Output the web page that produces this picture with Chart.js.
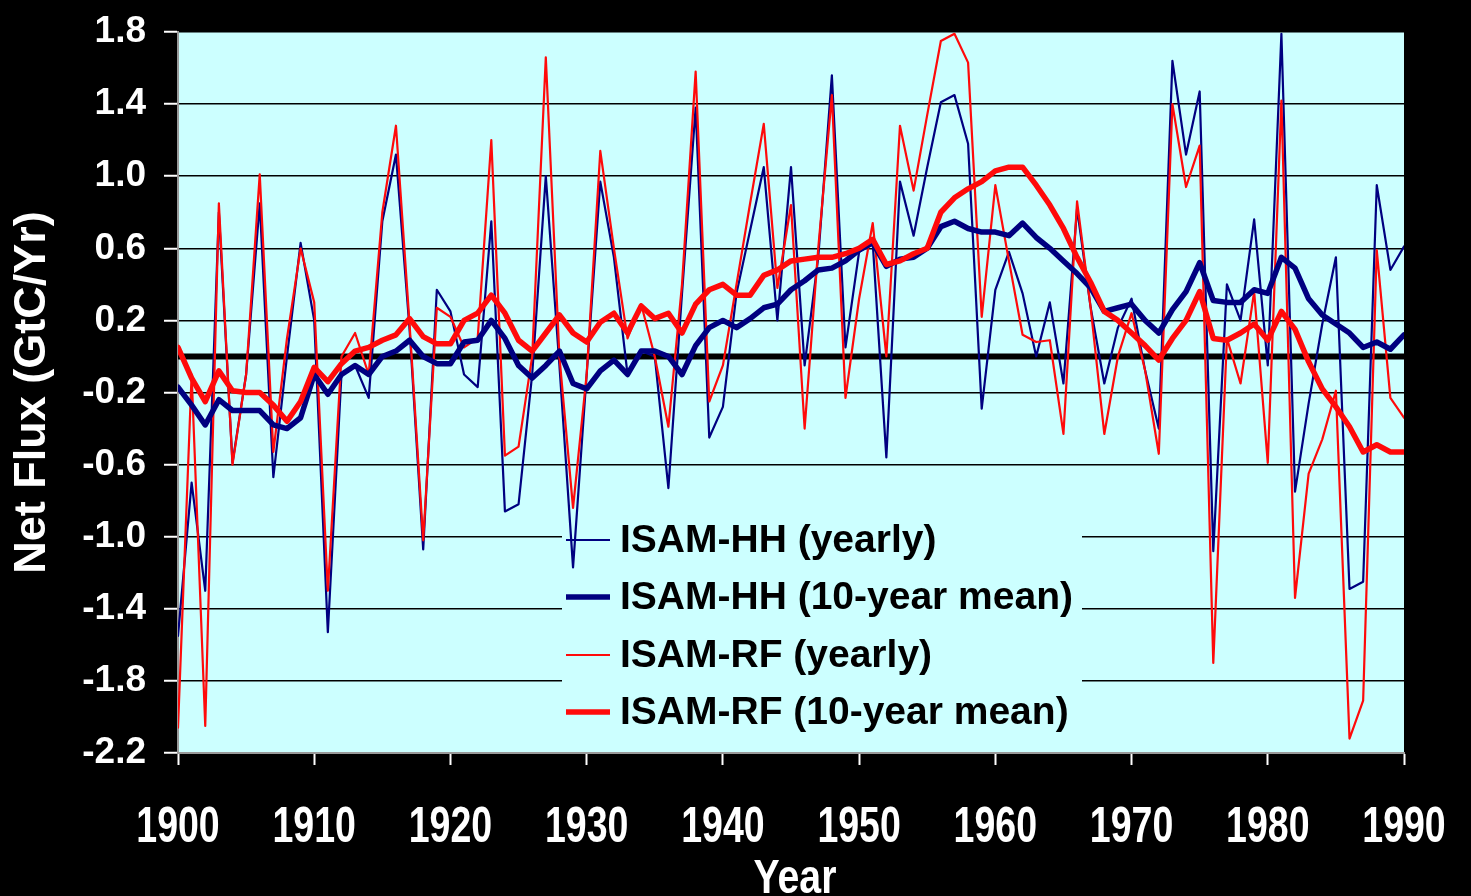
<!DOCTYPE html>
<html>
<head>
<meta charset="utf-8">
<title>Net Flux 1900-1990</title>
<script src="https://cdn.jsdelivr.net/npm/chart.js@4/dist/chart.umd.min.js"></script>
<style>
  html, body { margin: 0; padding: 0; background: #000; }
  #wrap { width: 1471px; height: 896px; }
</style>
</head>
<body>
<div id="wrap"><canvas id="c" width="1471" height="896"></canvas></div>
<script>
// Years 1900-1990
const years = [
  1900,1901,1902,1903,1904,1905,1906,1907,1908,1909,
  1910,1911,1912,1913,1914,1915,1916,1917,1918,1919,
  1920,1921,1922,1923,1924,1925,1926,1927,1928,1929,
  1930,1931,1932,1933,1934,1935,1936,1937,1938,1939,
  1940,1941,1942,1943,1944,1945,1946,1947,1948,1949,
  1950,1951,1952,1953,1954,1955,1956,1957,1958,1959,
  1960,1961,1962,1963,1964,1965,1966,1967,1968,1969,
  1970,1971,1972,1973,1974,1975,1976,1977,1978,1979,
  1980,1981,1982,1983,1984,1985,1986,1987,1988,1989,
  1990
];

// Net flux, GtC/yr
const hhYearly = [
  -1.55,-0.70,-1.30, 0.80,-0.59,-0.10, 0.85,-0.67, 0.00, 0.63,
   0.20,-1.53,-0.10,-0.05,-0.23, 0.75, 1.12, 0.15,-1.07, 0.37,
   0.25,-0.10,-0.17, 0.75,-0.86,-0.82,-0.10, 1.00,-0.05,-1.17,
  -0.10, 0.97, 0.55,-0.10, 0.03, 0.00,-0.73, 0.35, 1.38,-0.45,
  -0.28, 0.35, 0.70, 1.05, 0.20, 1.05,-0.05, 0.55, 1.56, 0.05,
   0.58, 0.63,-0.56, 0.97, 0.67, 1.05, 1.41, 1.45, 1.18,-0.29,
   0.37, 0.58, 0.35, 0.00, 0.30,-0.15, 0.82, 0.27,-0.15, 0.16,
   0.32,-0.08,-0.40, 1.64, 1.12, 1.47,-1.08, 0.40, 0.20, 0.76,
  -0.05, 1.79,-0.75,-0.26, 0.18, 0.55,-1.29,-1.25, 0.95, 0.48,
   0.61
];
const hhMean = [
  -0.17,-0.27,-0.38,-0.24,-0.30,-0.30,-0.30,-0.38,-0.40,-0.34,
  -0.10,-0.21,-0.10,-0.05,-0.10, 0.00, 0.03, 0.09, 0.00,-0.04,
  -0.04, 0.08, 0.09, 0.20, 0.10,-0.05,-0.12,-0.05, 0.03,-0.15,
  -0.18,-0.08,-0.02,-0.10, 0.03, 0.03, 0.00,-0.10, 0.06, 0.16,
   0.20, 0.16, 0.21, 0.27, 0.29, 0.37, 0.42, 0.48, 0.49, 0.53,
   0.59, 0.63, 0.50, 0.54, 0.55, 0.60, 0.72, 0.75, 0.71, 0.69,
   0.69, 0.67, 0.74, 0.66, 0.60, 0.53, 0.46, 0.38, 0.25, 0.27,
   0.29, 0.20, 0.13, 0.26, 0.36, 0.52, 0.31, 0.30, 0.30, 0.37,
   0.35, 0.55, 0.49, 0.32, 0.23, 0.18, 0.13, 0.05, 0.08, 0.04,
   0.12
];
const rfYearly = [
  -2.06,-0.10,-2.05, 0.85,-0.60,-0.10, 1.01,-0.53, 0.10, 0.60,
   0.30,-1.30, 0.00, 0.13,-0.10, 0.80, 1.28, 0.18,-1.02, 0.27,
   0.22, 0.05, 0.10, 1.20,-0.55,-0.50, 0.00, 1.66, 0.00,-0.84,
  -0.10, 1.14, 0.60, 0.10, 0.29, 0.00,-0.39, 0.40, 1.58,-0.25,
  -0.05, 0.40, 0.85, 1.29, 0.38, 0.84,-0.40, 0.60, 1.45,-0.23,
   0.32, 0.74, 0.00, 1.28, 0.92, 1.34, 1.75, 1.79, 1.63, 0.22,
   0.95, 0.53, 0.12, 0.08, 0.09,-0.43, 0.86, 0.27,-0.43, 0.00,
   0.24,-0.08,-0.54, 1.40, 0.94, 1.17,-1.70, 0.10,-0.15, 0.36,
  -0.59, 1.42,-1.34,-0.65,-0.46,-0.19,-2.12,-1.91, 0.59,-0.23,
  -0.34
];
const rfMean = [
   0.05,-0.12,-0.25,-0.08,-0.19,-0.20,-0.20,-0.27,-0.36,-0.25,
  -0.06,-0.14,-0.04, 0.03, 0.05, 0.09, 0.12, 0.21, 0.11, 0.07,
   0.07, 0.20, 0.24, 0.34, 0.24, 0.09, 0.03, 0.13, 0.23, 0.13,
   0.08, 0.19, 0.24, 0.13, 0.28, 0.21, 0.24, 0.13, 0.29, 0.37,
   0.40, 0.34, 0.34, 0.45, 0.48, 0.53, 0.54, 0.55, 0.55, 0.57,
   0.60, 0.65, 0.51, 0.53, 0.57, 0.60, 0.80, 0.88, 0.93, 0.97,
   1.03, 1.05, 1.05, 0.95, 0.84, 0.71, 0.55, 0.41, 0.25, 0.20,
   0.13, 0.06,-0.02, 0.10, 0.20, 0.36, 0.10, 0.09, 0.13, 0.18,
   0.09, 0.25, 0.15,-0.03,-0.18,-0.28,-0.39,-0.53,-0.49,-0.53,
  -0.53
];

// Horizontal reference at zero flux
const zeroYears = [1900, 1990];
const zeroValues = [0, 0];

// Axis ticks
const xTicks = [1900, 1910, 1920, 1930, 1940, 1950, 1960, 1970, 1980, 1990];
const yTicks = [-2.2, -1.8, -1.4, -1.0, -0.6, -0.2, 0.2, 0.6, 1.0, 1.4, 1.8];

const seriesNames = [
  'ISAM-HH (yearly)',
  'ISAM-HH (10-year mean)',
  'ISAM-RF (yearly)',
  'ISAM-RF (10-year mean)'
];
const xTitle = 'Year';
const yTitle = 'Net Flux (GtC/Yr)';

const NAVY = '#000080';
const RED = '#ff0a0a';
const PLOT_BG = '#ccffff';
const SANS = "'Liberation Sans', Arial, sans-serif";

const pts = (xs, ys) => xs.map((x, i) => ({ x: x, y: ys[i] }));

// Draws text squeezed horizontally (narrow bold lettering)
function narrowText(ctx, text, x, y, sx) {
  ctx.save();
  ctx.translate(x, y);
  ctx.scale(sx, 1);
  ctx.fillText(text, 0, 0);
  ctx.restore();
}

// Plot background, black surround, legend box, legend entries, x labels
const framePlugin = {
  id: 'frame',
  beforeDraw(chart) {
    const { ctx, chartArea: a } = chart;
    ctx.save();
    ctx.fillStyle = '#000';
    ctx.fillRect(0, 0, chart.width, chart.height);
    ctx.fillStyle = PLOT_BG;
    ctx.fillRect(a.left, a.top, a.right - a.left, a.bottom - a.top);
    ctx.restore();
  },
  beforeDatasetsDraw(chart) {
    const { ctx } = chart;
    ctx.save();
    ctx.fillStyle = PLOT_BG;
    ctx.fillRect(562, 512, 520, 236);
    ctx.restore();
  },
  afterDatasetsDraw(chart) {
    const { ctx } = chart;
    const rows = [540, 597, 655, 712];
    ctx.save();
    ctx.font = 'bold 39px ' + SANS;
    ctx.textBaseline = 'middle';
    ctx.fillStyle = '#000';
    seriesNames.forEach((name, i) => {
      const ds = chart.data.datasets.find(d => d.label === name);
      ctx.strokeStyle = ds.borderColor;
      ctx.lineWidth = ds.borderWidth;
      ctx.lineCap = 'butt';
      ctx.beginPath();
      ctx.moveTo(566, rows[i]);
      ctx.lineTo(610, rows[i]);
      ctx.stroke();
      ctx.fillText(name, 620, rows[i] + 1);
    });
    ctx.restore();
  },
  afterDraw(chart) {
    const { ctx } = chart;
    const xs = chart.scales.x;
    ctx.save();
    ctx.fillStyle = '#fff';
    ctx.textAlign = 'center';
    ctx.textBaseline = 'alphabetic';
    ctx.font = 'bold 50px ' + SANS;
    xTicks.forEach(v => narrowText(ctx, String(v), xs.getPixelForValue(v), 842, 0.75));
    ctx.font = 'bold 49px ' + SANS;
    narrowText(ctx, xTitle, (chart.chartArea.left + chart.chartArea.right) / 2 + 4, 893, 0.8);
    ctx.restore();
  }
};

new Chart(document.getElementById('c'), {
  type: 'line',
  data: {
    datasets: [
      { label: seriesNames[3], data: pts(years, rfMean), borderColor: RED, borderWidth: 5.5, order: 0 },
      { label: seriesNames[1], data: pts(years, hhMean), borderColor: NAVY, borderWidth: 5.5, order: 1 },
      { label: seriesNames[2], data: pts(years, rfYearly), borderColor: RED, borderWidth: 2.2, order: 2 },
      { label: seriesNames[0], data: pts(years, hhYearly), borderColor: NAVY, borderWidth: 2.2, order: 3 },
      { label: 'zero', data: pts(zeroYears, zeroValues), borderColor: '#000', borderWidth: 6, order: 4 }
    ]
  },
  options: {
    responsive: false,
    animation: false,
    devicePixelRatio: 1,
    layout: { padding: { top: 32, right: 67, left: 0, bottom: 0 } },
    elements: {
      point: { radius: 0, hoverRadius: 0 },
      line: { tension: 0, fill: false, borderJoinStyle: 'round', borderCapStyle: 'round' }
    },
    plugins: {
      legend: { display: false },
      tooltip: { enabled: false }
    },
    events: [],
    scales: {
      x: {
        type: 'linear',
        min: xTicks[0],
        max: xTicks[xTicks.length - 1],
        afterBuildTicks(scale) { scale.ticks = xTicks.map(v => ({ value: v })); },
        afterFit(scale) { scale.height = 143; },
        ticks: { display: false },
        grid: {
          drawOnChartArea: false,
          drawTicks: true,
          tickLength: 12,
          tickColor: '#fff',
          tickWidth: 2
        },
        border: { display: true, color: '#9a9a9a', width: 2 },
        title: { display: false }
      },
      y: {
        min: yTicks[0],
        max: yTicks[yTicks.length - 1],
        afterBuildTicks(scale) { scale.ticks = yTicks.map(v => ({ value: v })); },
        afterFit(scale) { scale.width = 178; },
        ticks: {
          color: '#fff',
          font: { family: SANS, size: 37, weight: 'bold', lineHeight: 0.6 },
          padding: 18,
          autoSkip: false,
          callback: v => Number(v).toFixed(1)
        },
        grid: {
          color: '#000',
          lineWidth: 1.5,
          tickColor: '#fff',
          tickLength: 14,
          tickWidth: 2
        },
        border: { display: true, color: '#9a9a9a', width: 2 },
        title: {
          display: true,
          text: yTitle,
          color: '#fff',
          font: { family: SANS, size: 45, weight: 'bold', lineHeight: 1.2 },
          padding: { top: 6, bottom: 0 }
        }
      }
    }
  },
  plugins: [framePlugin]
});
</script>
</body>
</html>
